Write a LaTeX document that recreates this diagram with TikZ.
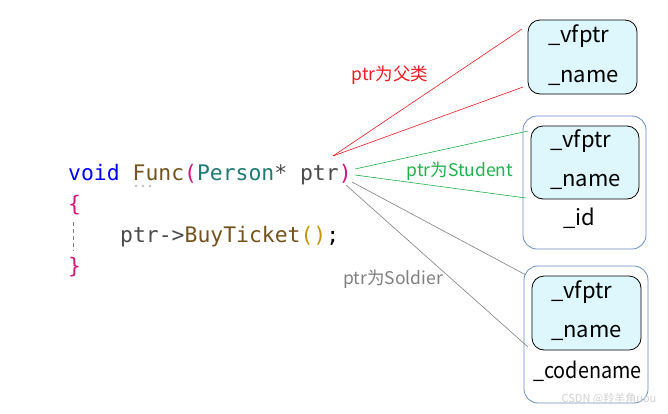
\documentclass[tikz,border=0pt]{standalone}
\usepackage{fontspec}
\newfontfamily\cjk{Noto Sans CJK SC}
\newfontfamily\codefont{DejaVu Sans Mono}
\definecolor{kwblue}{HTML}{0000FF}
\definecolor{fnbrown}{HTML}{74531F}
\definecolor{brmag}{HTML}{D0157A}
\definecolor{typeteal}{HTML}{1F7A72}
\definecolor{vargray}{HTML}{4A4A4A}
\definecolor{pargold}{HTML}{C8960A}
\definecolor{lblred}{HTML}{ED1C24}
\definecolor{lblgreen}{HTML}{22B14C}
\definecolor{lblgray}{HTML}{808080}
\definecolor{outerblue}{HTML}{6C8EBF}
\definecolor{innerfill}{HTML}{DDF7FD}
\begin{document}
\begin{tikzpicture}[x=1pt,y=-1pt,
  code/.style={font=\codefont\fontsize{21.4}{24}\selectfont, anchor=base west, inner sep=0pt},
  field/.style={font=\cjk\fontsize{22}{26}\selectfont, anchor=base west, inner sep=0pt},
  lbl/.style={font=\cjk\fontsize{17.5}{20}\selectfont, inner sep=0pt},
  objbox/.style={draw=black, line width=0.8pt, fill=innerfill, rounded corners=12pt},
  outerbox/.style={draw=outerblue, line width=0.8pt, rounded corners=14pt},
  conn/.style={line width=0.6pt}]
\useasboundingbox (0,0) rectangle (668,413);
\fill[white] (0,0) rectangle (668,413);

% code
\node[code] (l1) at (68,180) {\textcolor{kwblue}{void} \textcolor{fnbrown}{Func}\textcolor{brmag}{(}\textcolor{typeteal}{Person}\textcolor{vargray}{*} \textcolor{vargray}{ptr}\textcolor{brmag}{)}};
\node[code] (l2) at (68,211) {\textcolor{brmag}{\{}};
\node[code] (l3) at (120,242) {\textcolor{vargray}{ptr->}\textcolor{fnbrown}{BuyTicket}\textcolor{pargold}{()};};
\node[code] (l4) at (68,273) {\textcolor{brmag}{\}}};
\draw[gray, line width=1pt, dash pattern=on 4pt off 3pt] (73,222) -- (73,251);
\foreach \dx in {136,143,150} \fill[lightgray] (\dx,186) circle (1.3pt);

% boxes
\node[objbox, minimum width=109pt, minimum height=74pt] (person) at (582.5,57) {};
\node[field] (p1) at (548,42) {\_vfptr};
\node[field] (p2) at (548,82) {\_name};

\node[outerbox, minimum width=123pt, minimum height=133pt] (student) at (584.5,182.5) {};
\node[objbox, minimum width=108pt, minimum height=73pt] (studentin) at (585,162.5) {};
\node[field] (s1) at (550,147) {\_vfptr};
\node[field] (s2) at (550,186) {\_name};
\node[field] (s3) at (563,225) {\_id};

\node[outerbox, minimum width=124pt, minimum height=137pt] (soldier) at (586,334.5) {};
\node[objbox, minimum width=109pt, minimum height=74pt] (soldierin) at (586.5,313) {};
\node[field] (d1) at (551,298) {\_vfptr};
\node[field] (d2) at (551,337) {\_name};
\node[field] (d3) at (533,378) {\scalebox{0.9}[1]{\_codename}};

% connector endpoints
\coordinate (r0) at (333,156);
\coordinate (r1) at (522,29);
\coordinate (r2) at (523,87);
\coordinate (g0) at (355,169);
\coordinate (g0b) at (355,175);
\coordinate (g1) at (528,131);
\coordinate (g2) at (526,198);
\coordinate (k0) at (352,182);
\coordinate (k0b) at (346,185);
\coordinate (k1) at (526,275);
\coordinate (k2) at (528,347);

\draw[conn, lblred] (r0) -- (r1);
\draw[conn, lblred] (r0) -- (r2);
\draw[conn, lblgreen] (g0) -- (g1);
\draw[conn, lblgreen] (g0b) -- (g2);
\draw[conn, gray] (k0) -- (k1);
\draw[conn, gray] (k0b) -- (k2);

\node[lbl, text=lblred] (lp) at (390,75) {ptr为父类};
\node[lbl, text=lblgreen] (ls) at (460,171) {ptr为Student};
\node[lbl, text=lblgray] (ld) at (393,279) {ptr为Soldier};

\node[font=\cjk\fontsize{11}{13}\selectfont, text=black!18, inner sep=0pt] (wm) at (609,399) {CSDN @羚羊角uou};
\end{tikzpicture}
\end{document}
